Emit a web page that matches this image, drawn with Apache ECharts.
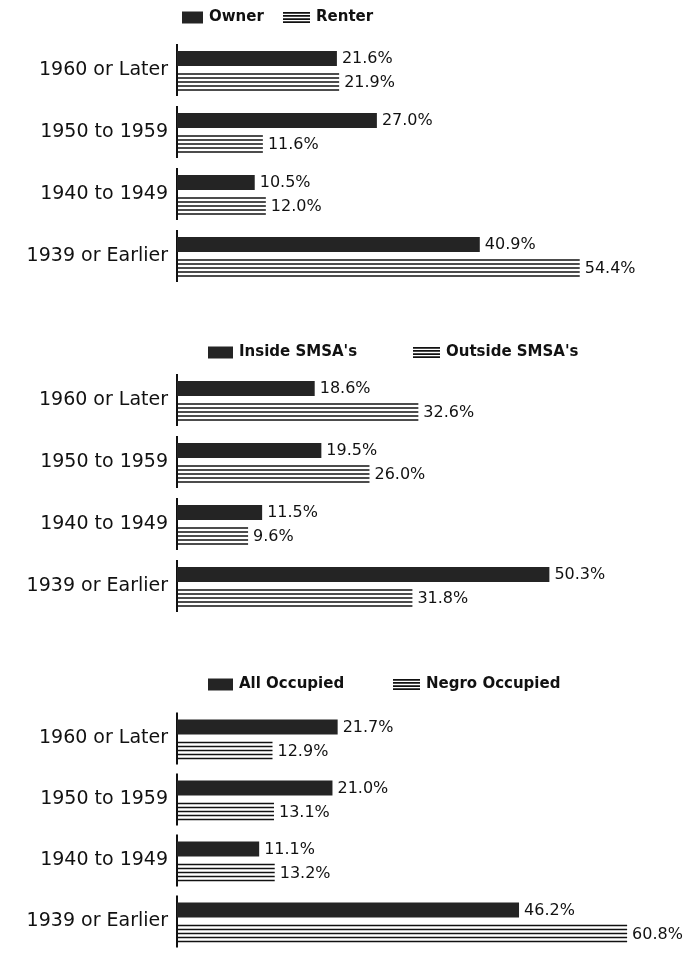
<!DOCTYPE html>
<html>
<head>
<meta charset="utf-8">
<script src="https://cdn.jsdelivr.net/npm/echarts@6/dist/echarts.min.js"></script>
<style>
html,body{margin:0;padding:0;background:#fff;}
#chart{width:691px;height:959px;}
</style>
</head>
<body>
<div id="chart"></div>
<script>
// ---- data ----
var categories = ['1960 or Later', '1950 to 1959', '1940 to 1949', '1939 or Earlier'];

var panel1Names = ['Owner', 'Renter'];
var ownerValues = [21.6, 27.0, 10.5, 40.9];
var renterValues = [21.9, 11.6, 12.0, 54.4];

var panel2Names = ["Inside SMSA's", "Outside SMSA's"];
var insideValues = [18.6, 19.5, 11.5, 50.3];
var outsideValues = [32.6, 26.0, 9.6, 31.8];

var panel3Names = ['All Occupied', 'Negro Occupied'];
var allOccValues = [21.7, 21.0, 11.1, 46.2];
var negroOccValues = [12.9, 13.1, 13.2, 60.8];

// ---- rendering ----
var FONT = '"DejaVu Sans", sans-serif';
var DARK = '#242424';
var INK = '#111';

function toData(arr) { return arr.map(function (v, i) { return [v, i]; }); }

function renderSolid(params, api) {
  var v = api.value(0), c = api.value(1);
  var p0 = api.coord([0, c]);
  var p1 = api.coord([v, c]);
  var cy = p0[1];
  return {
    type: 'group',
    children: [
      { type: 'line', shape: { x1: p0[0], y1: cy - 26, x2: p0[0], y2: cy + 26 }, style: { stroke: INK, lineWidth: 2 } },
      { type: 'rect', shape: { x: p0[0], y: cy - 19, width: p1[0] - p0[0], height: 15 }, style: { fill: DARK } },
      { type: 'text', style: { text: v.toFixed(1) + '%', x: p1[0] + 5, y: cy - 11, verticalAlign: 'middle', font: '16px ' + FONT, fill: INK } }
    ]
  };
}

function renderLined(params, api) {
  var v = api.value(0), c = api.value(1);
  var p0 = api.coord([0, c]);
  var p1 = api.coord([v, c]);
  var cy = p0[1];
  var kids = [];
  for (var k = 0; k < 5; k++) {
    var y = cy + 4 + k * 4;
    kids.push({ type: 'line', shape: { x1: p0[0], y1: y, x2: p1[0], y2: y }, style: { stroke: INK, lineWidth: 1.7 } });
  }
  kids.push({ type: 'text', style: { text: v.toFixed(1) + '%', x: p1[0] + 5, y: cy + 13, verticalAlign: 'middle', font: '16px ' + FONT, fill: INK } });
  return { type: 'group', children: kids };
}

var LINES_ICON = 'path://M0,0H27V1.7H0Z M0,3.1H27V4.8H0Z M0,6.2H27V7.9H0Z M0,9.3H27V11H0Z';

var panels = [
  { names: panel1Names, a: ownerValues, b: renterValues, top: 39, height: 248,
    legA: { left: 182, top: 10, w: 21 }, legB: { left: 283, top: 10, w: 27 } },
  { names: panel2Names, a: insideValues, b: outsideValues, top: 369, height: 248,
    legA: { left: 208, top: 345, w: 25 }, legB: { left: 413, top: 345, w: 27 } },
  { names: panel3Names, a: allOccValues, b: negroOccValues, top: 708, height: 244,
    legA: { left: 208, top: 677, w: 25 }, legB: { left: 393, top: 677, w: 27 } }
];

var grid = [], xAxis = [], yAxis = [], series = [], legend = [];
panels.forEach(function (p, i) {
  grid.push({ left: 177, width: 459, top: p.top, height: p.height });
  xAxis.push({ type: 'value', gridIndex: i, min: 0, max: 62, show: false });
  yAxis.push({
    type: 'category', gridIndex: i, data: categories, inverse: true,
    axisLine: { show: false }, axisTick: { show: false }, splitLine: { show: false },
    axisLabel: { fontSize: 19, fontFamily: FONT, color: INK, margin: 9 }
  });
  series.push({
    name: p.names[0], type: 'custom', xAxisIndex: i, yAxisIndex: i,
    encode: { x: 0, y: 1 }, data: toData(p.a), renderItem: renderSolid,
    itemStyle: { color: DARK }
  });
  series.push({
    name: p.names[1], type: 'custom', xAxisIndex: i, yAxisIndex: i,
    encode: { x: 0, y: 1 }, data: toData(p.b), renderItem: renderLined,
    itemStyle: { color: INK }
  });
  legend.push({
    data: [{ name: p.names[0], icon: 'rect' }], left: p.legA.left, top: p.legA.top,
    itemWidth: p.legA.w, itemHeight: 12, itemGap: 0, padding: 0, selectedMode: false,
    textStyle: { fontFamily: FONT, fontWeight: 'bold', fontSize: 15, color: INK, padding: [0, 0, 0, 1] }
  });
  legend.push({
    data: [{ name: p.names[1], icon: LINES_ICON }], left: p.legB.left, top: p.legB.top,
    itemWidth: p.legB.w, itemHeight: 11, itemGap: 0, padding: 0, selectedMode: false,
    textStyle: { fontFamily: FONT, fontWeight: 'bold', fontSize: 15, color: INK, padding: [0, 0, 0, 1] }
  });
});

var chart = echarts.init(document.getElementById('chart'), null, { renderer: 'canvas' });
chart.setOption({
  backgroundColor: '#fff',
  animation: false,
  grid: grid, xAxis: xAxis, yAxis: yAxis, series: series, legend: legend
});
</script>
</body>
</html>
